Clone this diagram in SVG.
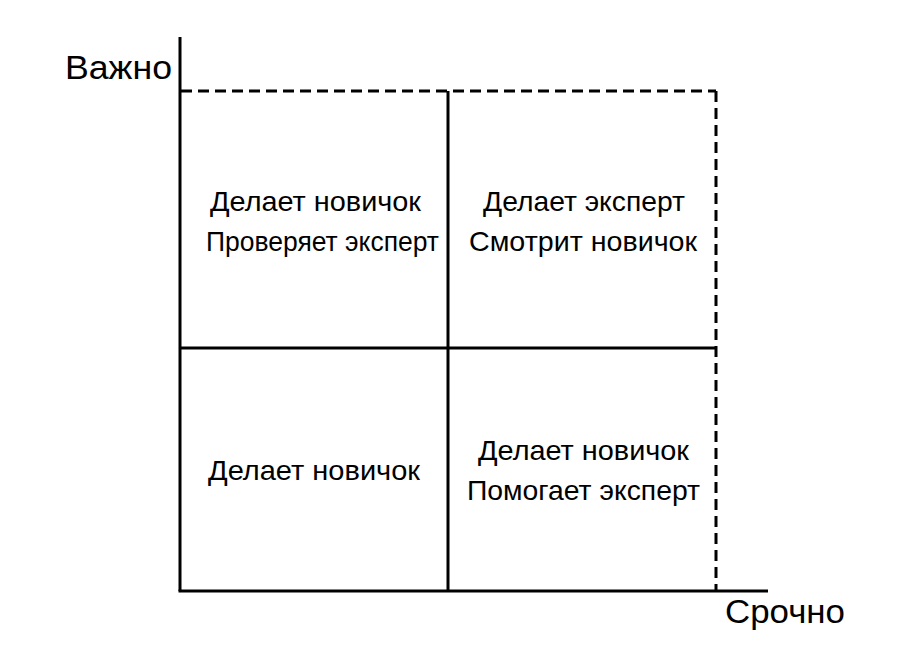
<svg xmlns="http://www.w3.org/2000/svg" width="902" height="664" viewBox="0 0 902 664">
<style>
.ln{stroke:#000;stroke-width:3;fill:none}
.dash{stroke:#000;stroke-width:3;fill:none;stroke-dasharray:11 6}
.t{font-family:"Liberation Sans","Open Sans",sans-serif;font-size:27.5px;fill:#000}
.ax{font-family:"Liberation Sans","Open Sans",sans-serif;font-size:34px;fill:#000}
</style>
<rect width="902" height="664" fill="#fff"/>
<g id="connectors">
<line class="ln" x1="180" y1="37" x2="180" y2="591"/>
<line class="ln" x1="178.5" y1="591" x2="768" y2="591"/>
<line class="dash" x1="181" y1="91" x2="716" y2="91"/>
<line class="dash" x1="716" y1="91" x2="716" y2="590"/>
<line class="ln" x1="448" y1="91" x2="448" y2="591"/>
<line class="ln" x1="180" y1="348" x2="716" y2="348"/>
</g>
<g id="axis-y"><text class="ax" x="65" y="79" textLength="107" lengthAdjust="spacingAndGlyphs">Важно</text></g>
<g id="axis-x"><text class="ax" x="725" y="623" textLength="120" lengthAdjust="spacingAndGlyphs">Срочно</text></g>
<g id="q1"><text class="t" x="210" y="211" textLength="211" lengthAdjust="spacingAndGlyphs">Делает новичок</text><text class="t" x="206" y="251" textLength="233" lengthAdjust="spacingAndGlyphs">Проверяет эксперт</text></g>
<g id="q2"><text class="t" x="483" y="211" textLength="202" lengthAdjust="spacingAndGlyphs">Делает эксперт</text><text class="t" x="469" y="251" textLength="228" lengthAdjust="spacingAndGlyphs">Смотрит новичок</text></g>
<g id="q3"><text class="t" x="208" y="480" textLength="212" lengthAdjust="spacingAndGlyphs">Делает новичок</text></g>
<g id="q4"><text class="t" x="478" y="460" textLength="211" lengthAdjust="spacingAndGlyphs">Делает новичок</text><text class="t" x="467" y="500" textLength="233" lengthAdjust="spacingAndGlyphs">Помогает эксперт</text></g>
</svg>
